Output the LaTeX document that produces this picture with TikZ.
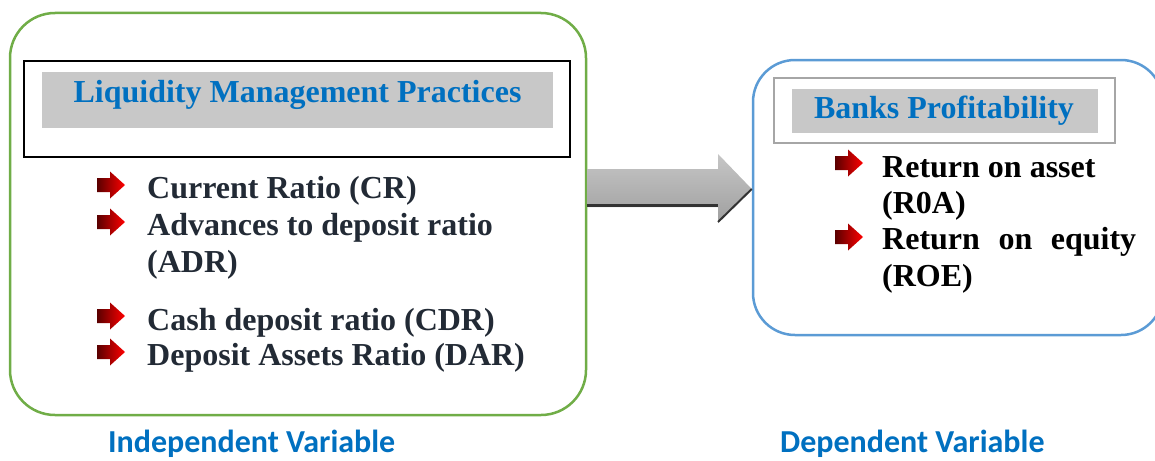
\documentclass[tikz,border=0pt]{standalone}
\usepackage{fontspec}
\setmainfont{Liberation Serif}
\newfontfamily\calib{Carlito}
\usetikzlibrary{calc}
\definecolor{boxgreen}{HTML}{70AD47}
\definecolor{boxblue}{HTML}{5B9BD5}
\definecolor{titleblue}{HTML}{0070C0}
\definecolor{titlegray}{HTML}{C8C8C8}
\definecolor{framegray}{HTML}{A6A6A6}
\definecolor{slatetext}{HTML}{222A35}
\definecolor{darkred}{HTML}{5A0000}
\tikzset{
  bigbox/.style={draw, line width=2.5pt, rounded corners=45pt, fill=white},
  titlefill/.style={fill=titlegray, draw=none},
  titletext/.style={font=\fontsize{32}{37}\selectfont\bfseries, text=titleblue, inner sep=0pt, anchor=base},
  itemtext/.style={font=\fontsize{32}{37}\selectfont\bfseries, inner sep=0pt, anchor=base west},
  captext/.style={font=\calib\fontsize{32}{37}\selectfont\bfseries, text=titleblue, inner sep=0pt, anchor=base west},
  pics/bulletarrow/.style={code={
    \path[left color=darkred, right color=red, draw=none]
      (0,-7) -- (13,-7) -- (13,-13.5) -- (28,0) -- (13,13.5) -- (13,7) -- (0,7) -- cycle;
  }}
}
\begin{document}
\begin{tikzpicture}[x=1pt,y=-1pt]
\useasboundingbox (0,0) rectangle (1155,460);
% left box
\node[bigbox, draw=boxgreen, minimum width=576pt, minimum height=402pt] (lbox) at (298,214) {};
\draw[line width=2.5pt] (24,61) rectangle (570,157);
\fill[titlefill] (42,72) rectangle (553,128);
\node[titletext] (ltitle) at (297.5,102) {Liquidity Management Practices};
% left bullets
\pic at (97,185) {bulletarrow};
\node[itemtext, text=slatetext] (i1) at (147,198) {Current Ratio (CR)};
\pic at (97,222) {bulletarrow};
\node[itemtext, text=slatetext] (i2) at (147,235) {Advances to deposit ratio};
\node[itemtext, text=slatetext] (i2b) at (147,272) {(ADR)};
\pic at (97,316) {bulletarrow};
\node[itemtext, text=slatetext] (i3) at (147,330) {Cash deposit ratio (CDR)};
\pic at (97,352) {bulletarrow};
\node[itemtext, text=slatetext] (i4) at (147,365) {Deposit Assets Ratio (DAR)};
% right box
\node[bigbox, draw=boxblue, rounded corners=42pt, minimum width=410pt, minimum height=275pt] (rbox) at (958,197.5) {};
\draw[draw=framegray, line width=2.5pt] (774,78) rectangle (1115,143);
\fill[titlefill] (792,89) rectangle (1098,133);
\node[titletext] (rtitle) at (944,118) {Banks Profitability};
\pic at (835,163) {bulletarrow};
\node[itemtext, text=black] (r1) at (882,177) {Return on asset};
\node[itemtext, text=black] (r1b) at (882,213) {(R0A)};
\pic at (835,237) {bulletarrow};
\node[itemtext, text=black] (r2) at (882,249) {\hbox to 254pt{Return\hfill on\hfill equity}};
\node[itemtext, text=black] (r2b) at (882,286) {(ROE)};
% big arrow between the boxes
\path[top color=gray!45, bottom color=gray!75, draw=none]
  (lbox.east |- 0,169) -- (718,169) -- (718,154) -- (rbox.west |- 0,189) -- (718,223) -- (718,207) -- (lbox.east |- 0,207) -- cycle;
\draw[gray!40!black, line width=3pt] (lbox.east |- 0,205.5) -- (718,205.5);
\draw[gray!40!black, line width=2pt] (718,222) -- (rbox.west |- 0,189);
% captions
\node[captext] (cap1) at (108,452) {Independent Variable};
\node[captext] (cap2) at (780,452) {Dependent Variable};
\end{tikzpicture}
\end{document}
